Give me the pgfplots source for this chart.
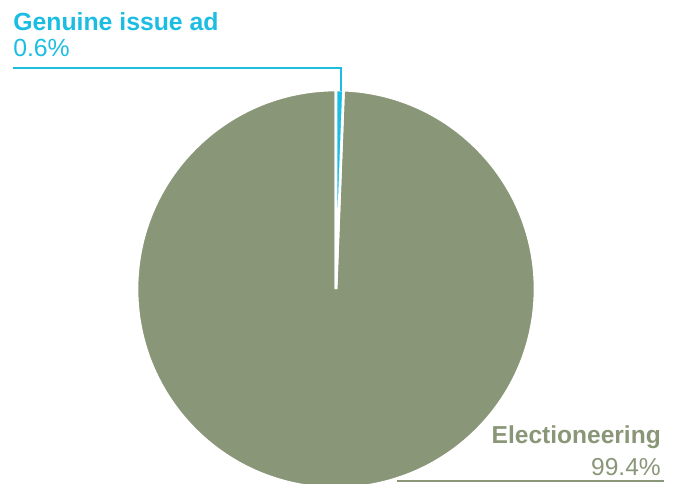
\documentclass[border=0pt]{standalone}
\usepackage{pgfplots}
\usepackage{pgfplotstable}
\usepackage{fontspec}
\setmainfont{Liberation Sans}
\pgfplotsset{compat=1.18}
\definecolor{pgreen}{HTML}{8A9678}
\definecolor{pcyan}{HTML}{1CBDE3}
\pgfplotstableread{
label value
Genuine 0.6
Electioneering 99.4
}\piedata
\pgfplotstablegetelem{0}{value}\of\piedata
\let\vA\pgfplotsretval
\pgfplotstablegetelem{1}{value}\of\piedata
\let\vB\pgfplotsretval
\pgfmathsetmacro\angA{90-3.6*\vA}
\pgfmathsetmacro\angB{\angA-3.6*\vB}
\def\R{149.25pt}
\begin{document}
\begin{tikzpicture}
\useasboundingbox (0,0) rectangle (507.75pt,363pt);
\begin{axis}[at={(0,0)},anchor=south west,scale only axis,
  width=507.75pt,height=363pt,xmin=0,xmax=677,ymin=0,ymax=484,
  y dir=reverse,hide axis,clip=true]
\addplot[draw=none] coordinates {(0,0) (677,484)};
% slices
\fill[pgreen,draw=white,line width=2pt,line join=miter] (axis cs:336,289) -- ++(\angA:\R) arc[start angle=\angA,end angle=\angB,radius=\R] -- cycle;
\fill[pcyan,draw=white,line width=2pt] (axis cs:336,289) -- ++(90:\R) arc[start angle=90,end angle=\angA,radius=\R] -- cycle;
% leaders
\draw[pcyan,line width=2.1pt] (axis cs:341,91) -- (axis cs:341,68) -- (axis cs:13,68);
\draw[pgreen,line width=2pt] (axis cs:397,481) -- (axis cs:664,481);
% labels
\node[anchor=base west,inner sep=0pt,text=pcyan,font=\fontsize{18.6}{22}\selectfont\bfseries] at (axis cs:13,31) {Genuine issue ad};
\node[anchor=base west,inner sep=0pt,text=pcyan,font=\fontsize{18.6}{22}\selectfont] at (axis cs:13,57) {\vA\%};
\node[anchor=base east,inner sep=0pt,text=pgreen,font=\fontsize{18.4}{22}\selectfont\bfseries] at (axis cs:661,443) {Electioneering};
\node[anchor=base east,inner sep=0pt,text=pgreen,font=\fontsize{18.4}{22}\selectfont] at (axis cs:661,475) {\vB\%};
\end{axis}
\end{tikzpicture}
\end{document}
